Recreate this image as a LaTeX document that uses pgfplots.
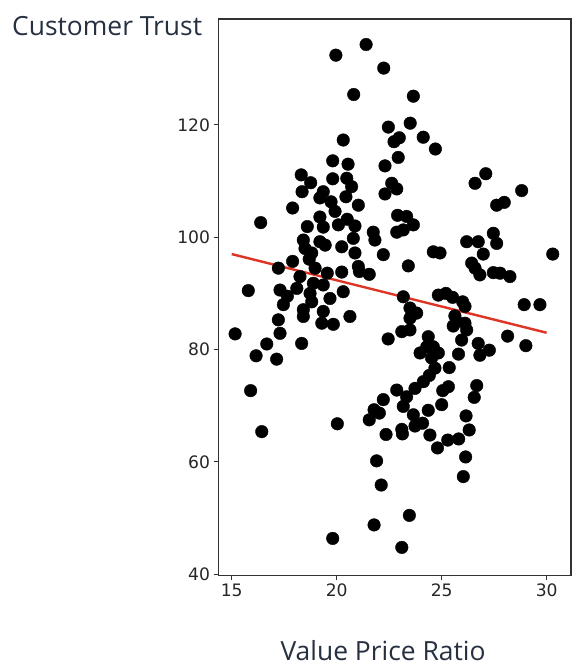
\documentclass[border=0pt]{standalone}
\usepackage{fontspec}
\usepackage{pgfplots}
\pgfplotsset{compat=1.18}
\setmainfont{Open Sans}
\newfontfamily\dejavu{DejaVu Sans}
\definecolor{labcol}{RGB}{38,48,64}
\definecolor{fitred}{RGB}{222,52,36}
\definecolor{spine}{RGB}{50,50,50}
\begin{document}
\begin{tikzpicture}[x=1bp,y=1bp]
\useasboundingbox (0,0) rectangle (588,668);
\begin{axis}[
  at={(218.5bp,92.5bp)}, anchor=south west,
  scale only axis, width=352.5bp, height=556.5bp,
  xmin=14.37, xmax=31.16, ymin=39.8, ymax=138.84,
  xtick={15,20,25,30}, ytick={40,60,80,100,120},
  tick align=outside, major tick length=5bp,
  xtick pos=bottom, ytick pos=left,
  axis line style={spine, line width=1.1bp},
  every tick/.style={spine, line width=1bp},
  /pgf/number format/assume math mode=true,
  ticklabel style={font=\dejavu\fontsize{17.2}{19}\selectfont, text=black!85},
  clip=false,
]
\addplot[only marks, mark=*, mark size=6.3bp, mark options={fill=black, draw=black}] table {
x y
19.96 132.4
21.40 134.3
22.24 130.1
20.81 125.4
23.65 125.1
22.46 119.6
23.50 120.3
20.31 117.3
22.98 117.7
22.73 117.0
24.12 117.8
24.70 115.7
19.81 113.6
20.54 113.0
22.30 112.7
22.93 114.2
18.31 111.1
18.76 109.7
19.81 110.4
20.48 110.5
20.71 109.0
22.62 109.6
22.86 108.6
22.30 107.7
18.35 108.1
19.36 108.1
19.20 107.0
19.73 106.3
20.44 107.2
21.03 105.7
17.90 105.2
19.92 104.6
19.20 103.6
20.50 103.2
18.60 101.9
19.36 101.8
20.08 102.2
20.87 102.0
21.74 100.9
21.82 99.5
22.90 103.9
23.33 103.7
23.65 102.2
22.86 100.9
23.17 101.3
27.10 111.3
26.59 109.6
28.81 108.3
27.62 105.7
27.98 106.2
16.38 102.6
18.41 99.5
19.20 99.2
19.45 98.6
18.49 98.0
18.81 97.2
20.24 98.3
20.79 99.8
20.87 97.2
22.22 96.9
18.69 96.1
17.90 95.7
17.22 94.5
18.25 93.0
18.97 94.5
19.55 93.6
20.24 93.8
21.03 94.8
21.08 93.9
21.55 93.4
18.89 91.8
19.36 91.5
17.30 90.6
18.10 90.9
18.73 90.0
20.31 90.3
15.79 90.5
17.46 88.0
17.65 89.5
18.81 88.5
19.68 89.1
18.41 87.1
19.36 86.8
20.63 85.9
18.41 85.9
17.22 85.3
19.29 84.7
19.84 84.5
17.30 82.9
18.33 81.1
15.16 82.8
16.67 81.0
16.16 78.9
17.14 78.3
15.90 72.7
16.43 65.4
20.03 66.8
19.81 46.4
22.45 81.9
24.60 97.4
24.92 97.2
26.19 99.2
26.74 99.2
27.62 98.9
27.46 100.7
26.98 97.0
26.43 95.4
26.59 94.5
26.82 93.3
27.46 93.7
27.78 93.6
28.25 93.0
23.41 94.9
30.29 97.0
28.93 88.0
29.68 88.0
28.14 82.4
29.01 80.7
23.17 89.4
24.84 89.7
25.20 90.0
25.52 89.3
26.00 88.5
26.11 87.7
23.49 87.4
23.81 86.5
23.49 85.6
25.63 86.0
25.71 85.0
25.55 84.2
26.11 84.7
26.19 83.5
23.10 83.2
23.49 83.5
25.95 81.7
26.74 81.1
27.27 79.9
26.82 79.0
24.36 82.3
24.29 80.5
24.60 80.5
24.84 79.4
23.97 79.4
25.80 79.2
24.52 78.5
24.68 76.7
25.36 76.8
24.41 75.4
24.13 74.3
23.73 73.1
22.86 72.8
23.33 71.6
23.17 69.9
23.65 68.4
24.36 69.2
23.73 66.4
24.09 66.9
23.10 65.8
23.13 65.0
24.44 64.8
24.80 62.5
25.29 63.9
25.81 64.1
26.03 57.4
26.14 60.9
26.31 65.7
26.16 68.2
26.55 71.5
26.67 73.6
25.05 72.7
25.32 73.4
25.00 70.2
22.35 64.9
22.22 71.1
21.78 69.3
22.03 68.7
21.55 67.5
21.90 60.2
22.12 55.9
21.78 48.8
23.10 44.8
23.46 50.5
};
\addplot[fitred, line width=2.4bp] coordinates {(15,97) (30,83)};
\end{axis}
\node[anchor=base west, inner sep=0pt, text=labcol, font=\fontsize{26.5}{30}\selectfont] at (12,632) {Customer Trust};
\node[anchor=base, inner sep=0pt, text=labcol, font=\fontsize{26.5}{30}\selectfont] at (383,7) {Value Price Ratio};
\end{tikzpicture}
\end{document}
